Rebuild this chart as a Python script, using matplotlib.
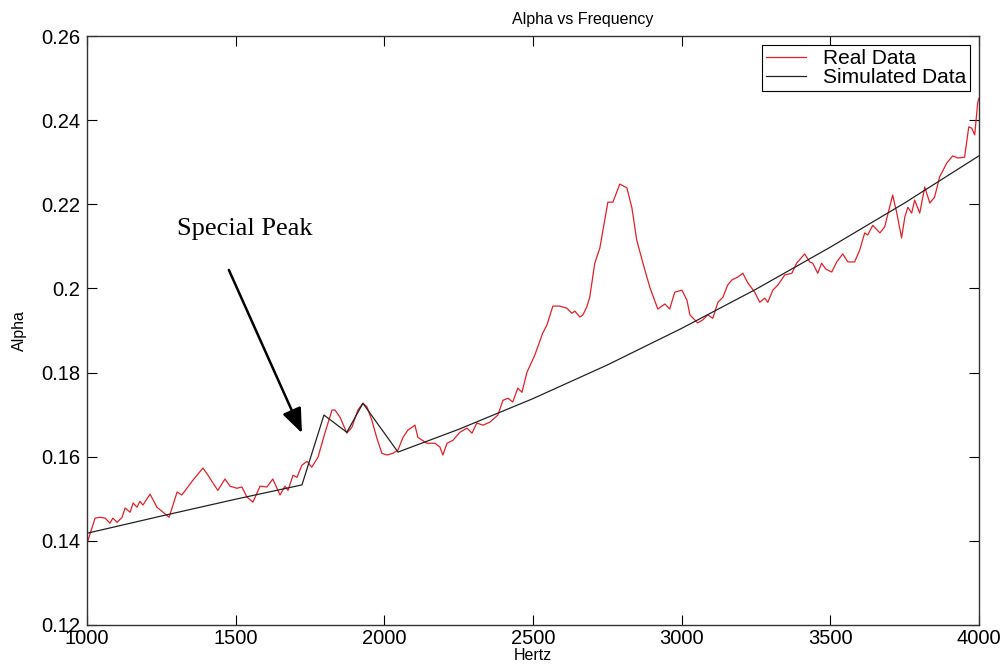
import matplotlib
matplotlib.use("Agg")
import matplotlib.pyplot as plt

plt.rcParams['font.family'] = ['Liberation Sans', 'DejaVu Sans']

# measured absorption vs frequency
real_hz = [1000, 1027, 1044, 1061, 1077, 1087, 1101, 1118, 1128, 1145,
           1155, 1168, 1178, 1188, 1212, 1235, 1256, 1276, 1303, 1319,
           1356, 1390, 1407, 1424, 1440, 1464, 1481, 1504, 1521, 1538,
           1558, 1582, 1605, 1625, 1649, 1666, 1676, 1693, 1706, 1723,
           1740, 1756, 1777, 1800, 1824, 1834, 1851, 1874, 1891, 1911,
           1928, 1942, 1958, 1975, 1992, 2009, 2029, 2046, 2063, 2079,
           2103, 2113, 2143, 2170, 2187, 2197, 2211, 2231, 2254, 2278,
           2295, 2311, 2332, 2355, 2382, 2399, 2416, 2432, 2449, 2463,
           2480, 2506, 2533, 2547, 2567, 2590, 2614, 2631, 2641, 2658,
           2668, 2681, 2691, 2708, 2725, 2752, 2769, 2792, 2816, 2833,
           2849, 2870, 2893, 2920, 2944, 2960, 2977, 3001, 3018, 3028,
           3054, 3071, 3088, 3105, 3122, 3139, 3155, 3169, 3189, 3206,
           3223, 3246, 3263, 3280, 3290, 3307, 3324, 3347, 3371, 3387,
           3414, 3431, 3441, 3458, 3471, 3485, 3505, 3522, 3542, 3559,
           3582, 3599, 3616, 3626, 3643, 3667, 3683, 3710, 3724, 3740,
           3751, 3761, 3774, 3784, 3801, 3818, 3835, 3851, 3868, 3892,
           3912, 3929, 3952, 3966, 3976, 3986, 3996, 4000]
real_alpha = [0.1394, 0.1454, 0.1456, 0.1454, 0.1442, 0.1454, 0.1444, 0.1456, 0.1478, 0.1468,
              0.1490, 0.1480, 0.1494, 0.1485, 0.1511, 0.1480, 0.1468, 0.1456, 0.1516, 0.1509,
              0.1544, 0.1573, 0.1556, 0.1537, 0.1520, 0.1547, 0.1530, 0.1525, 0.1528, 0.1504,
              0.1492, 0.1530, 0.1528, 0.1547, 0.1509, 0.1530, 0.1520, 0.1556, 0.1551, 0.1580,
              0.1589, 0.1575, 0.1599, 0.1656, 0.1711, 0.1711, 0.1694, 0.1656, 0.1670, 0.1711,
              0.1727, 0.1718, 0.1687, 0.1644, 0.1608, 0.1604, 0.1608, 0.1616, 0.1646, 0.1663,
              0.1675, 0.1646, 0.1632, 0.1632, 0.1623, 0.1604, 0.1632, 0.1639, 0.1658, 0.1668,
              0.1656, 0.1680, 0.1675, 0.1682, 0.1699, 0.1734, 0.1739, 0.1730, 0.1763, 0.1753,
              0.1801, 0.1841, 0.1894, 0.1913, 0.1958, 0.1958, 0.1953, 0.1941, 0.1946, 0.1932,
              0.1937, 0.1956, 0.1979, 0.2060, 0.2096, 0.2205, 0.2205, 0.2248, 0.2239, 0.2191,
              0.2115, 0.2060, 0.2003, 0.1951, 0.1963, 0.1951, 0.1991, 0.1996, 0.1972, 0.1937,
              0.1918, 0.1925, 0.1937, 0.1929, 0.1967, 0.1979, 0.2008, 0.2020, 0.2027, 0.2036,
              0.2013, 0.1991, 0.1967, 0.1977, 0.1967, 0.1996, 0.2008, 0.2032, 0.2036, 0.2060,
              0.2082, 0.2063, 0.2060, 0.2036, 0.2060, 0.2046, 0.2039, 0.2063, 0.2082, 0.2063,
              0.2063, 0.2091, 0.2132, 0.2127, 0.2150, 0.2132, 0.2146, 0.2222, 0.2179, 0.2120,
              0.2170, 0.2193, 0.2179, 0.2210, 0.2179, 0.2241, 0.2203, 0.2217, 0.2265, 0.2298,
              0.2315, 0.2310, 0.2312, 0.2384, 0.2381, 0.2365, 0.2441, 0.2452]

# model output
sim_hz = [1000, 1250, 1500, 1723, 1797, 1874, 1928, 2046, 2250, 2500,
          2750, 3000, 3250, 3500, 3750, 4000]
sim_alpha = [0.1418, 0.1459, 0.1499, 0.1533, 0.1699, 0.1658, 0.1727, 0.1611, 0.1665, 0.1738,
             0.1818, 0.1905, 0.1998, 0.2098, 0.2203, 0.2315]

xticks = [1000, 1500, 2000, 2500, 3000, 3500, 4000]
yticks = [0.12, 0.14, 0.16, 0.18, 0.2, 0.22, 0.24, 0.26]
ytick_labels = ['0.12', '0.14', '0.16', '0.18', '0.2', '0.22', '0.24', '0.26']

fig = plt.figure(figsize=(10.05, 6.68), dpi=100)
ax = fig.add_axes([0.0866, 0.0644, 0.8874, 0.8817])

ax.plot(real_hz, real_alpha, color='#e0202a', lw=0.9, label='Real Data')
ax.plot(sim_hz, sim_alpha, color='#222222', lw=0.9, label='Simulated Data')

ax.set_xlim(1000, 4000)
ax.set_ylim(0.12, 0.26)
ax.set_xticks(xticks)
ax.set_yticks(yticks)
ax.set_yticklabels(ytick_labels)
ax.tick_params(direction='in', length=7, width=0.8, top=True, right=True,
               labelsize=14.5, colors='black')
ax.tick_params(axis='x', pad=3)
ax.tick_params(axis='y', pad=5)
for s in ax.spines.values():
    s.set_color('#333333')
    s.set_linewidth(1.0)

ax.set_title('Alpha vs Frequency', fontsize=11.5, pad=9, x=0.556)
ax.set_xlabel('Hertz', fontsize=11.5, labelpad=0)
ax.set_ylabel('Alpha', fontsize=11.5, labelpad=10)

ax.annotate('', xy=(1723, 0.1656), xytext=(1477, 0.2044),
            arrowprops=dict(arrowstyle='-|>,head_length=0.75,head_width=0.3',
                            color='black', lw=1.8, mutation_scale=20,
                            shrinkA=0, shrinkB=0))
ax.text(1303, 0.2127, 'Special Peak', fontsize=19,
        family=['Liberation Serif', 'DejaVu Serif'], ha='left', va='baseline')

leg = ax.legend(loc='upper right', fontsize=15, fancybox=False, framealpha=1,
                edgecolor='black', handlelength=1.9, handletextpad=0.8,
                labelspacing=0.0, borderpad=0.2, borderaxespad=0.42)
leg.get_frame().set_linewidth(0.8)

fig.savefig('out.png', dpi=100)
